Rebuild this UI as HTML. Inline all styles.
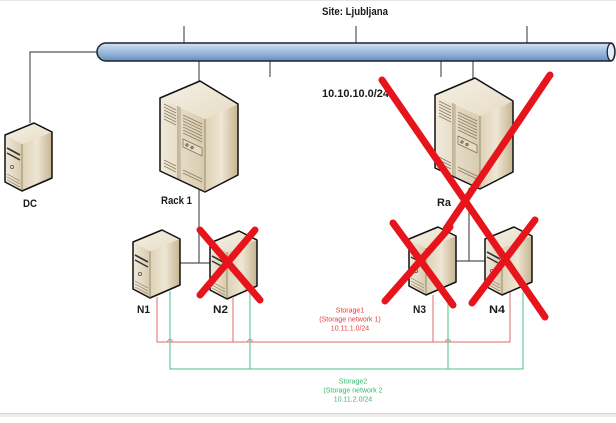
<!DOCTYPE html>
<html><head><meta charset="utf-8"><style>
html,body{margin:0;padding:0;background:#fff;}
svg{display:block;}
text{font-family:"Liberation Sans",sans-serif;}
</style></head><body>
<svg width="616" height="423" viewBox="0 0 616 423" xmlns="http://www.w3.org/2000/svg">
<defs>
<linearGradient id="pipe" x1="0" y1="0" x2="0" y2="1">
<stop offset="0" stop-color="#d8e5f2"/><stop offset="0.3" stop-color="#b0cae5"/><stop offset="0.7" stop-color="#89acd3"/><stop offset="1" stop-color="#6389b6"/>
</linearGradient>
<linearGradient id="topF" x1="0" y1="0" x2="1" y2="1">
<stop offset="0" stop-color="#f6f1e6"/><stop offset="1" stop-color="#e6dcc5"/>
</linearGradient>
<linearGradient id="frontF" x1="0" y1="0" x2="1" y2="0">
<stop offset="0" stop-color="#f1eadb"/><stop offset="1" stop-color="#d8cbae"/>
</linearGradient>
<linearGradient id="sideF" x1="0" y1="0" x2="1" y2="0">
<stop offset="0" stop-color="#ddd0b4"/><stop offset="0.5" stop-color="#eee6d4"/><stop offset="1" stop-color="#c6b491"/>
</linearGradient>
<g id="tower">
<polygon points="133,242 150,251 150,298 133,289" fill="url(#frontF)"/>
<polygon points="150,251 180,239 180,285 150,298" fill="url(#sideF)"/>
<polygon points="133,242 162,230 180,239 150,251" fill="url(#topF)"/>
<line x1="135" y1="255" x2="148" y2="262" stroke="#333" stroke-width="1.6"/>
<line x1="135" y1="260" x2="148" y2="267" stroke="#333" stroke-width="1.4"/>
<circle cx="140" cy="274" r="1.6" fill="none" stroke="#555" stroke-width="0.8"/>
<line x1="135" y1="281" x2="148" y2="288" stroke="#8a7a60" stroke-width="0.7"/>
<line x1="135" y1="284" x2="148" y2="291" stroke="#8a7a60" stroke-width="0.7"/>
<line x1="135" y1="287" x2="148" y2="294" stroke="#8a7a60" stroke-width="0.7"/>
<polygon points="133,242 162,230 180,239 180,285 150,298 133,289" fill="none" stroke="#111" stroke-width="1.5" stroke-linejoin="round"/>
<line x1="150" y1="251" x2="150" y2="298" stroke="#6b604c" stroke-width="0.6"/>
</g>
<g id="rack">
<polygon points="160,98 205,119 205,192 160,171" fill="url(#frontF)"/>
<polygon points="205,119 238,104 238,175 205,192" fill="url(#sideF)"/>
<polygon points="160,98 200,81 238,104 205,119" fill="url(#topF)"/>
<line x1="178" y1="106" x2="178" y2="180" stroke="#8a7a60" stroke-width="0.8"/>
<line x1="180" y1="107" x2="180" y2="181" stroke="#8a7a60" stroke-width="0.6"/>
<g stroke="#8a7a60" stroke-width="0.7">
<line x1="164" y1="104" x2="176" y2="110"/><line x1="164" y1="107" x2="176" y2="113"/><line x1="164" y1="110" x2="176" y2="116"/><line x1="164" y1="113" x2="176" y2="119"/><line x1="164" y1="116" x2="176" y2="122"/><line x1="164" y1="119" x2="176" y2="125"/>
<line x1="164" y1="160" x2="176" y2="166"/><line x1="164" y1="163" x2="176" y2="169"/><line x1="164" y1="166" x2="176" y2="172"/>
<line x1="183" y1="115" x2="202" y2="124"/><line x1="183" y1="118" x2="202" y2="127"/><line x1="183" y1="121" x2="202" y2="130"/><line x1="183" y1="124" x2="202" y2="133"/><line x1="183" y1="127" x2="202" y2="136"/><line x1="183" y1="130" x2="202" y2="139"/><line x1="183" y1="133" x2="202" y2="142"/>
<line x1="183" y1="170" x2="202" y2="179"/><line x1="183" y1="173" x2="202" y2="182"/>
</g>
<polygon points="183,139 202,148 202,156 183,147" fill="#e6dcc6" stroke="#7a6b52" stroke-width="0.7"/>
<circle cx="187" cy="145" r="1.4" fill="#9a8c74" stroke="#444" stroke-width="0.5"/>
<circle cx="192" cy="147.5" r="1.4" fill="#9a8c74" stroke="#444" stroke-width="0.5"/>
<polygon points="160,98 200,81 238,104 238,175 205,192 160,171" fill="none" stroke="#111" stroke-width="1.5" stroke-linejoin="round"/>
<line x1="205" y1="119" x2="205" y2="192" stroke="#6b604c" stroke-width="0.6"/>
</g>
</defs>

<rect x="0" y="0" width="616" height="1" fill="#e6e6e6"/>
<rect x="0" y="413" width="616" height="1.2" fill="#d2d2d2"/>
<rect x="0" y="414" width="616" height="3" fill="#eeeeee"/>

<g stroke="#555" stroke-width="1.2" fill="none">
<path d="M30,123 V52 H97"/>
<line x1="184" y1="26" x2="184" y2="43"/>
<line x1="356" y1="26" x2="356" y2="43"/>
<line x1="527" y1="26" x2="527" y2="43"/>
<line x1="199" y1="61" x2="199" y2="82"/>
<line x1="270" y1="61" x2="270" y2="77"/>
<line x1="441" y1="61" x2="441" y2="77"/>
<line x1="473" y1="61" x2="473" y2="79"/>
<path d="M199,190 V263 M180,263 H211"/>
<path d="M469,188 V261 M456,261 H486"/>
</g>

<path d="M106,43 H611 A4,9 0 0 1 611,61 H106 A9,9 0 0 1 106,43 Z" fill="url(#pipe)" stroke="#1b2433" stroke-width="1.5"/>
<ellipse cx="611" cy="52" rx="3.8" ry="8.6" fill="#e4edf7" stroke="#1b2433" stroke-width="1.3"/>

<g fill="none" stroke-width="1">
<path d="M157,297 V342 H510 V292" stroke="#df6a6a"/>
<path d="M233,298 V342 M433,295 V342" stroke="#df6a6a"/>
<path d="M170,291 V369 H523 V292" stroke="#4fbf83"/>
<path d="M250,290 V369 M448,298 V369" stroke="#4fbf83"/>
<g stroke="#c97a7a">
<path d="M167.5,342 a2.5,2.5 0 0 1 5,0"/>
<path d="M247.5,342 a2.5,2.5 0 0 1 5,0"/>
<path d="M445.5,342 a2.5,2.5 0 0 1 5,0"/>
</g>
</g>

<use href="#rack"/>
<use href="#rack" transform="translate(275,-3)"/>
<use href="#tower"/>
<use href="#tower" transform="translate(77,1)"/>
<use href="#tower" transform="translate(276,-3)"/>
<use href="#tower" transform="translate(352,-3)"/>
<use href="#tower" transform="translate(-128,-107)"/>

<g font-weight="bold" font-size="11" fill="#1a1a1a">
<text x="322" y="15" textLength="66" lengthAdjust="spacingAndGlyphs">Site: Ljubljana</text>
<text x="322" y="97" textLength="67" lengthAdjust="spacingAndGlyphs">10.10.10.0/24</text>
<text x="23" y="207" textLength="14" lengthAdjust="spacingAndGlyphs">DC</text>
<text x="161" y="204" textLength="31" lengthAdjust="spacingAndGlyphs">Rack 1</text>
<text x="437" y="206" textLength="14" lengthAdjust="spacingAndGlyphs">Ra</text>
<text x="137" y="313" textLength="13" lengthAdjust="spacingAndGlyphs">N1</text>
<text x="213" y="313" textLength="15" lengthAdjust="spacingAndGlyphs">N2</text>
<text x="413" y="313" textLength="13" lengthAdjust="spacingAndGlyphs">N3</text>
<text x="489" y="313" textLength="16" lengthAdjust="spacingAndGlyphs">N4</text>
</g>
<g font-size="7" text-anchor="middle" fill="#e0403f">
<text x="350" y="312.5">Storage1</text>
<text x="350" y="321.5">(Storage network 1)</text>
<text x="350" y="330.5">10.11.1.0/24</text>
</g>
<g font-size="7" text-anchor="middle" fill="#3db36d">
<text x="353" y="383.5">Storage2</text>
<text x="353" y="392.5">(Storage network 2</text>
<text x="353" y="401.5">10.11.2.0/24</text>
</g>

<g stroke="#e8141c" stroke-width="7" stroke-linecap="round" fill="none">
<line x1="382" y1="80" x2="545" y2="317"/>
<line x1="550" y1="75" x2="446" y2="229"/>
<line x1="393" y1="223" x2="453" y2="305"/>
<line x1="450" y1="227" x2="385" y2="301"/>
<line x1="535" y1="220" x2="472" y2="303"/>
<line x1="200" y1="230" x2="260" y2="300"/>
<line x1="255" y1="230" x2="200" y2="295"/>
</g>
</svg>
</body></html>
